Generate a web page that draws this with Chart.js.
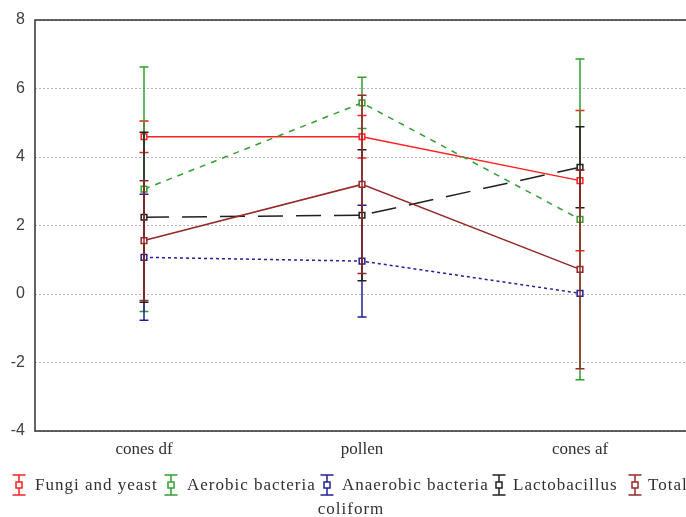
<!DOCTYPE html>
<html><head><meta charset="utf-8">
<script src="https://cdn.jsdelivr.net/npm/chart.js@4"></script>
<style>html,body{margin:0;padding:0;background:#fff;overflow:hidden}#w{width:686px;height:517px;overflow:hidden}</style></head>
<body>
<div id="w"><canvas id="c" width="690" height="517"></canvas></div>
<script>
const categories = ['cones df', 'pollen', 'cones af'];
const fungiYeast = [4.59, 4.59, 3.31];
const fungiYeastErr = [0.46, 0.62, 2.05];
const aerobic = [3.06, 5.58, 2.18];
const aerobicErr = [3.57, 0.75, 4.68];
const anaerobic = [1.07, 0.96, 0.02];
const anaerobicErr = [1.84, 1.63, 0];
const lacto = [2.24, 2.30, 3.70];
const lactoErr = [2.48, 1.91, 1.18];
const coliform = [1.56, 3.20, 0.72];
const coliformErr = [1.75, 2.60, 2.90];
const seriesNames = ['Fungi and yeast', 'Aerobic bacteria', 'Anaerobic bacteria', 'Lactobacillus', 'Total coliform'];
const yMin = -4, yMax = 8, yStep = 2;

const colors = ['#ff2020', '#30a030', '#20209a', '#202020', '#962828'];
const dashes = [[], [6, 6], [3, 3], [25, 13], []];
const values = [fungiYeast, aerobic, anaerobic, lacto, coliform];
const errors = [fungiYeastErr, aerobicErr, anaerobicErr, lactoErr, coliformErr];

const datasets = values.map((v, i) => ({
  label: seriesNames[i],
  data: v,
  errors: errors[i],
  borderColor: colors[i],
  backgroundColor: '#ffffff',
  borderWidth: 1.5,
  borderDash: dashes[i],
  pointStyle: 'rect',
  pointRadius: 4,
  pointBorderWidth: 1.5,
  pointBorderColor: colors[i],
  pointBackgroundColor: '#ffffff',
  tension: 0,
  fill: false,
  order: 5 - i
}));

const errorBars = {
  id: 'errorBars',
  afterDatasetDraw(chart, args) {
    const ds = chart.data.datasets[args.index];
    const y = chart.scales.y;
    const ctx = chart.ctx;
    ctx.save();
    ctx.strokeStyle = ds.borderColor;
    ctx.lineWidth = 1.5;
    ctx.setLineDash([]);
    args.meta.data.forEach((pt, j) => {
      const e = ds.errors[j];
      if (!e) return;
      const v = ds.data[j];
      const yt = y.getPixelForValue(v + e), yb = y.getPixelForValue(v - e);
      ctx.beginPath();
      ctx.moveTo(pt.x, yt); ctx.lineTo(pt.x, yb);
      ctx.moveTo(pt.x - 4.5, yt); ctx.lineTo(pt.x + 4.5, yt);
      ctx.moveTo(pt.x - 4.5, yb); ctx.lineTo(pt.x + 4.5, yb);
      ctx.stroke();
    });
    ctx.restore();
  }
};

const frameAndLegend = {
  id: 'frameAndLegend',
  afterDraw(chart) {
    const ctx = chart.ctx, a = chart.chartArea;
    ctx.save();
    ctx.strokeStyle = '#303030';
    ctx.lineWidth = 1.5;
    ctx.setLineDash([]);
    ctx.strokeRect(a.left, a.top, a.right - a.left, a.bottom - a.top);
    // legend
    const iconX = [19, 171, 327, 499, 635];
    const textX = [35, 187, 342, 513, 648];
    const cy = 485;
    ctx.font = '17px "Liberation Serif"';
    ctx.letterSpacing = '1px';
    ctx.textBaseline = 'middle';
    ctx.textAlign = 'left';
    seriesNames.forEach((name, i) => {
      const cx = iconX[i];
      ctx.strokeStyle = colors[i];
      ctx.lineWidth = 1.5;
      ctx.beginPath();
      ctx.moveTo(cx, cy - 10); ctx.lineTo(cx, cy + 10);
      ctx.moveTo(cx - 6.5, cy - 10); ctx.lineTo(cx + 6.5, cy - 10);
      ctx.moveTo(cx - 6.5, cy + 10); ctx.lineTo(cx + 6.5, cy + 10);
      ctx.stroke();
      ctx.fillStyle = '#ffffff';
      ctx.fillRect(cx - 3, cy - 3, 6, 6);
      ctx.strokeRect(cx - 3, cy - 3, 6, 6);
      ctx.fillStyle = '#303030';
      if (i === 4) {
        const parts = name.split(' ');
        ctx.fillText(parts[0], textX[i], cy + 1);
        ctx.textAlign = 'center';
        ctx.fillText(parts.slice(1).join(' '), 351, 510);
        ctx.textAlign = 'left';
      } else {
        ctx.fillText(name, textX[i], cy + 1);
      }
    });
    ctx.restore();
  }
};

new Chart(document.getElementById('c'), {
  type: 'line',
  data: { labels: categories, datasets },
  options: {
    responsive: false,
    animation: false,
    devicePixelRatio: 1,
    layout: { autoPadding: false, padding: { top: 20, right: 1, left: 0, bottom: 0 } },
    plugins: { legend: { display: false }, tooltip: { enabled: false } },
    scales: {
      x: {
        offset: true,
        grid: { display: false, drawTicks: false },
        border: { display: false },
        ticks: { color: '#303030', font: { family: 'Liberation Serif', size: 17 }, padding: 8 },
        afterFit(s) { s.height = 86; }
      },
      y: {
        min: yMin, max: yMax,
        grid: { color: '#b4b4b4', lineWidth: 1, drawTicks: false },
        border: { display: false, dash: [2, 2] },
        ticks: { stepSize: yStep, color: '#404040', font: { family: 'Liberation Sans', size: 16 }, padding: 10 },
        afterFit(s) { s.width = 35; }
      }
    }
  },
  plugins: [errorBars, frameAndLegend]
});
</script>
</body></html>
